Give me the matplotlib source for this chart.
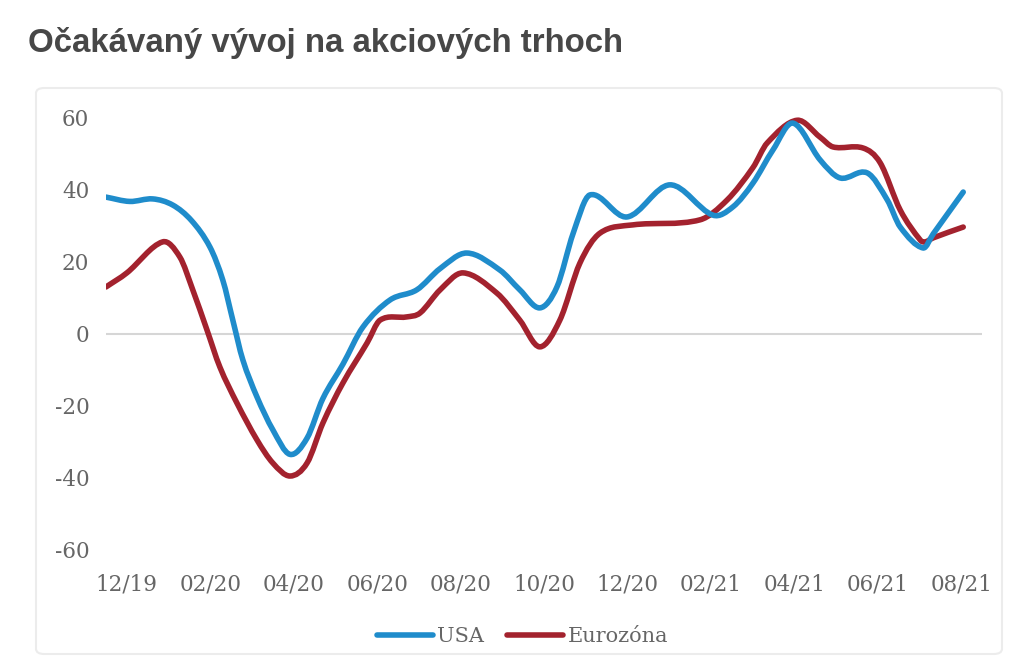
import matplotlib.pyplot as plt
from matplotlib.patches import FancyBboxPatch, PathPatch
from matplotlib.path import Path
from matplotlib.lines import Line2D

plt.rcParams['axes.unicode_minus'] = False

# month positions: 0 = 12/19, 20 = 08/21
usa_x = [-0.50, 0.07, 0.62, 1.10, 1.55, 1.99, 2.30, 2.54, 2.78, 3.12,
         3.50, 3.91, 4.32, 4.70, 5.18, 5.66, 6.31, 6.95, 7.51, 8.15,
         8.94, 9.42, 9.90, 10.31, 10.70, 11.10, 11.99, 13.02, 14.05, 14.53,
         15.01, 15.49, 15.97, 16.62, 17.10, 17.75, 18.23, 18.54, 19.09, 19.33,
         20.05]
usa_y = [37.8, 36.6, 37.3, 35.6, 31.3, 24.0, 14.8, 3.7, -7.3, -17.6,
         -26.7, -33.5, -29.0, -18.0, -8.5, 1.8, 9.3, 12.1, 18.0, 22.3,
         17.6, 12.1, 7.1, 12.9, 27.8, 38.4, 32.3, 41.2, 32.8, 35.1,
         41.7, 50.9, 58.3, 48.1, 43.1, 44.5, 37.0, 29.5, 23.7, 27.6,
         39.2]

ez_x = [-0.50, 0.00, 0.86, 1.27, 1.58, 1.92, 2.23, 2.64, 3.12, 3.50,
        3.91, 4.32, 4.70, 5.18, 5.76, 6.07, 6.71, 7.03, 7.51, 8.06,
        8.87, 9.42, 9.90, 10.38, 10.86, 11.34, 12.13, 13.74, 14.39, 15.01,
        15.35, 16.07, 16.62, 16.93, 17.65, 18.06, 18.54, 19.02, 19.14, 19.33,
        20.05]
ez_y = [12.9, 16.8, 25.4, 21.2, 12.1, 1.0, -9.3, -19.3, -29.5, -35.9,
        -39.5, -35.9, -24.8, -13.7, -2.6, 3.7, 4.6, 5.7, 12.1, 16.8,
        11.2, 3.7, -3.7, 3.7, 19.5, 27.8, 30.1, 31.5, 37.0, 46.0,
        52.8, 59.1, 54.4, 51.7, 51.4, 47.3, 34.2, 25.9, 25.4, 26.5,
        29.5]

tick_pos = list(range(0, 21, 2))
tick_labels = ['12/19', '02/20', '04/20', '06/20', '08/20', '10/20',
               '12/20', '02/21', '04/21', '06/21', '08/21']
y_ticks = [-60, -40, -20, 0, 20, 40, 60]

BLUE = '#1f8ccb'
RED = '#a3222e'
TXT = '#666666'


def smooth_path(xs, ys):
    """Cubic Bezier path through the points (Hermite-style tangents)."""
    n = len(xs)
    slopes = []
    for i in range(n):
        a, b = max(i - 1, 0), min(i + 1, n - 1)
        slopes.append((ys[b] - ys[a]) / (xs[b] - xs[a]))
    verts = [(xs[0], ys[0])]
    codes = [Path.MOVETO]
    for i in range(n - 1):
        d = (xs[i + 1] - xs[i]) / 3
        verts += [(xs[i] + d, ys[i] + d * slopes[i]),
                  (xs[i + 1] - d, ys[i + 1] - d * slopes[i + 1]),
                  (xs[i + 1], ys[i + 1])]
        codes += [Path.CURVE4] * 3
    return Path(verts, codes)


fig = plt.figure(figsize=(10.24, 6.63), dpi=100)
W, H = 1024, 663

# faint panel around the chart
panel = FancyBboxPatch((36 / W, 1 - 654 / H), 966 / W, 566 / H,
                       boxstyle='round,pad=0,rounding_size=0.008',
                       transform=fig.transFigure, facecolor='white',
                       edgecolor='#ececec', lw=1.5, zorder=-5)
fig.patches.append(panel)

fig.text(28 / W, 1 - 43 / H, 'Očakávaný vývoj na akciových trhoch',
         fontsize=23.8, fontweight='bold', color='#474747',
         family='Liberation Sans', va='center', ha='left')

ax = fig.add_axes([106 / W, 1 - 550 / H, 876 / W, 433 / H])
ax.set_facecolor('none')
ax.set_xlim(-0.5, 20.5)
ax.set_ylim(-60, 60)

ax.axhline(0, color='#d6d6d6', lw=1.5, zorder=1)
ax.add_patch(PathPatch(smooth_path(ez_x, ez_y), fill=False, edgecolor=RED,
                       lw=4, joinstyle='round', capstyle='round', zorder=2))
ax.add_patch(PathPatch(smooth_path(usa_x, usa_y), fill=False, edgecolor=BLUE,
                       lw=4, joinstyle='round', capstyle='round', zorder=3))

for s in ax.spines.values():
    s.set_visible(False)
ax.set_xticks(tick_pos, tick_labels)
ax.set_yticks(y_ticks)
ax.tick_params(length=0, labelsize=15.5, labelcolor=TXT)
ax.tick_params(axis='y', pad=12)
ax.tick_params(axis='x', pad=17)
for lab in ax.get_xticklabels() + ax.get_yticklabels():
    lab.set_family('DejaVu Serif')

handles = [Line2D([], [], color=BLUE, lw=4, solid_capstyle='round'),
           Line2D([], [], color=RED, lw=4, solid_capstyle='round')]
leg = fig.legend(handles, ['USA', 'Eurozóna'], loc='center',
                 bbox_to_anchor=(0.51, 1 - 637 / H), ncol=2,
                 frameon=False, handlelength=2.7, handletextpad=0.2,
                 columnspacing=1.1, prop={'family': 'DejaVu Serif', 'size': 15})
for t in leg.get_texts():
    t.set_color(TXT)

fig.savefig('out.png', dpi=100, facecolor='white')
